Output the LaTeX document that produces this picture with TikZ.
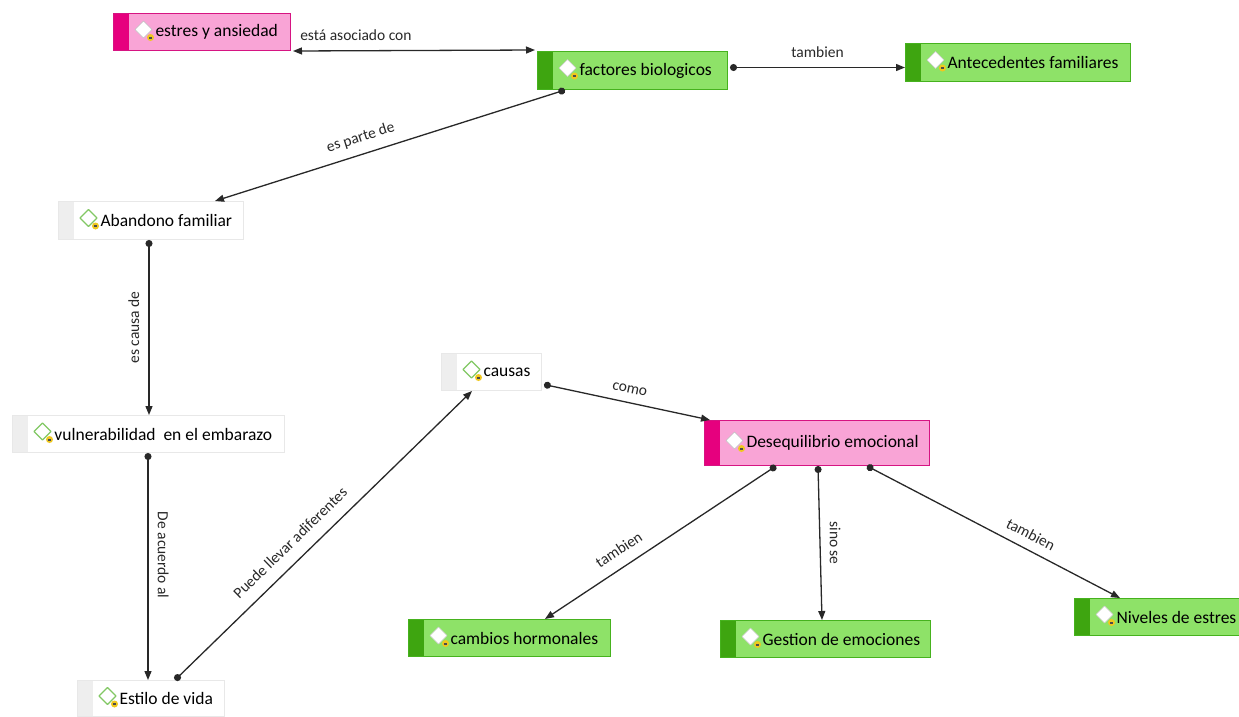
\documentclass[tikz,border=0pt]{standalone}
\usepackage{fontspec}
\setmainfont{Carlito}
\usetikzlibrary{arrows.meta,calc}
\definecolor{pinkfill}{RGB}{249,164,214}
\definecolor{pinkedge}{RGB}{214,20,130}
\definecolor{pinkstripe}{RGB}{230,0,126}
\definecolor{greenfill}{RGB}{142,226,104}
\definecolor{greenedge}{RGB}{70,178,30}
\definecolor{greenstripe}{RGB}{62,165,16}
\definecolor{whiteedge}{RGB}{232,232,232}
\definecolor{whitestripe}{RGB}{238,238,238}
\definecolor{diagreen}{RGB}{130,200,100}
\definecolor{noteyellow}{RGB}{240,200,30}
\definecolor{linkcol}{RGB}{40,40,40}
\newcommand\cnfont{\fontsize{17.5}{20}\selectfont}
\newcommand\lbfont{\fontsize{15.5}{17}\selectfont}
\newcommand\ctext[2]{\makebox[#1pt][l]{\hspace*{42pt}#2}}
\newcommand\cdeco[4]{%
  \fill[#1] (path picture bounding box.north west) rectangle ([xshift=15pt]path picture bounding box.south west);
  \coordinate (dc) at ([xshift=30pt,yshift=2.5pt]path picture bounding box.west);
  \filldraw[draw=#2, fill=#3, line width=#4, line join=round] ([yshift=8.5pt]dc) -- ([xshift=8.5pt]dc) -- ([yshift=-8.5pt]dc) -- ([xshift=-8.5pt]dc) -- cycle;
  \fill[noteyellow] ([xshift=7pt,yshift=-8pt]dc) circle (3.5pt);
  \draw[black!70, line width=0.5pt] ([xshift=5.3pt,yshift=-7.3pt]dc) -- ([xshift=8.7pt,yshift=-7.3pt]dc) ([xshift=5.3pt,yshift=-8.7pt]dc) -- ([xshift=8.7pt,yshift=-8.7pt]dc);
}
\tikzset{
  concept/.style={rectangle, anchor=north west, inner xsep=0pt, inner ysep=0pt, line width=1pt, font=\cnfont, text=black},
  pinkc/.style={concept, fill=pinkfill, draw=pinkedge, path picture={\cdeco{pinkstripe}{black!25}{white}{0.6pt}}},
  greenc/.style={concept, fill=greenfill, draw=greenedge, path picture={\cdeco{greenstripe}{black!20}{white}{0.6pt}}},
  plainc/.style={concept, fill=white, draw=whiteedge, path picture={\cdeco{whitestripe}{diagreen}{white}{1.3pt}}},
  link/.style={draw=linkcol, line width=1.3pt, {Circle[length=7pt]}-{Triangle[length=9pt,width=7pt]}},
  blink/.style={draw=linkcol, line width=1.3pt, {Triangle[length=9pt,width=7pt]}-{Triangle[length=9pt,width=7pt]}},
  lab/.style={font=\lbfont, text=linkcol, inner sep=9pt}
}
\begin{document}
\begin{tikzpicture}[x=1pt,y=-1pt]
\fill[white] (0,0) rectangle (1239,716);
\useasboundingbox (0,0) rectangle (1239,716);

\node[pinkc, minimum height=37pt] (estres) at (113,13) {\ctext{177}{estres y ansiedad}};
\node[greenc, minimum height=38pt] (factores) at (537,51) {\ctext{190}{factores biologicos}};
\node[greenc, minimum height=38pt] (ante) at (905,43) {\ctext{225}{Antecedentes familiares}};
\node[plainc, minimum height=38pt] (aband) at (58,201) {\ctext{185}{Abandono familiar}};
\node[plainc, minimum height=37pt] (vuln) at (12,415) {\ctext{272}{vulnerabilidad\ \ en el embarazo}};
\node[plainc, minimum height=36pt] (estilo) at (77,680) {\ctext{147}{Estilo de vida}};
\node[plainc, minimum height=37pt] (causas) at (441,353) {\ctext{100}{causas}};
\node[pinkc, minimum height=45pt] (deseq) at (704,420) {\ctext{225}{Desequilibrio emocional}};
\node[greenc, minimum height=37pt] (cambios) at (408,619) {\ctext{202}{cambios hormonales}};
\node[greenc, minimum height=37pt] (gestion) at (720,620) {\ctext{210}{Gestion de emociones}};
\node[greenc, minimum height=37pt] (niveles) at (1074,598) {\ctext{165}{Niveles de estres}};

\draw[blink] ([xshift=2pt]estres.south east) -- ([xshift=-2pt,yshift=1pt]factores.north west)
  node[lab, pos=0.26, above] {está asociado con};
\draw[link] ([xshift=2pt,yshift=3pt]factores.east) -- ([yshift=-5pt]ante.west)
  node[lab, midway, above] {tambien};
\draw[link] ([xshift=28pt]factores.south west) -- ([xshift=157pt]aband.north west)
  node[lab, pos=0.57, sloped, above] {es parte de};
\draw[link] ([xshift=91pt]aband.south west) -- ([xshift=137pt]vuln.north west)
  node[lab, midway, rotate=90, anchor=south] {es causa de};
\draw[link] ([xshift=136pt]vuln.south west) -- ([xshift=71pt]estilo.north west)
  node[lab, pos=0.45, rotate=-90, anchor=south] {De acuerdo al};
\draw[link] ([xshift=98pt]estilo.north west) -- ([xshift=31pt]causas.south west)
  node[lab, pos=0.43, sloped, above, inner sep=12pt] {Puede llevar adiferentes};
\draw[link] ([xshift=2pt,yshift=-12.5pt]causas.east) -- ([xshift=6pt]deseq.north west)
  node[lab, midway, sloped, above] {como};
\draw[link] ([xshift=72pt]deseq.south west) -- ([xshift=137pt]cambios.north west)
  node[lab, pos=0.64, sloped, above, inner sep=11pt] {tambien};
\draw[link] ([xshift=114pt]deseq.south west) -- ([xshift=102pt]gestion.north west)
  node[lab, midway, rotate=-90, anchor=south] {sino se};
\draw[link] ([xshift=163pt]deseq.south west) -- ([xshift=46pt]niveles.north west)
  node[lab, pos=0.62, sloped, above] {tambien};
\end{tikzpicture}
\end{document}
